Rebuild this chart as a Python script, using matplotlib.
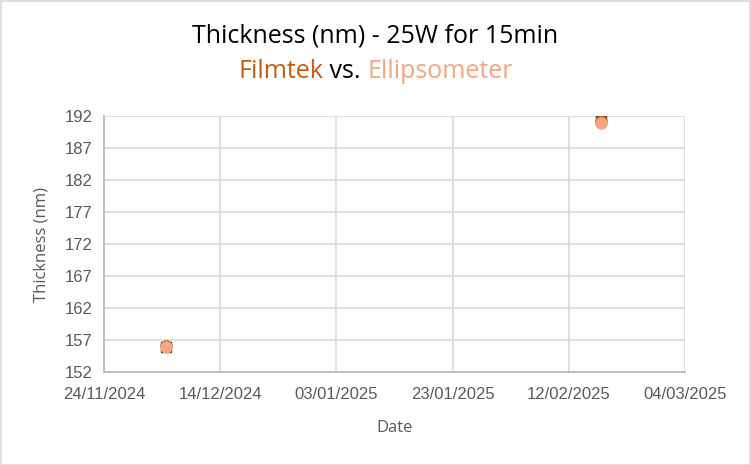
import numpy as np
import pandas as pd
import matplotlib
matplotlib.use("Agg")
import matplotlib.pyplot as plt
import matplotlib.dates as mdates

# =====================================================
# Data
# =====================================================
dates = pd.to_datetime(["2024-12-04 18:00", "2025-02-17 12:00"])
filmtek = [156.1, 191.2]
ellipsometer = [155.85, 190.9]
reference = [155.9, 191.4]

x_ticks = pd.date_range("2024-11-24", "2025-03-04", freq="20D")
y_ticks = np.arange(152, 193, 5)

c_film = "#C55A11"
c_ellip = "#F4A582"
c_ref = "#404040"
c_tick = "#595959"

# =====================================================
# Figure
# =====================================================
fig = plt.figure(figsize=(7.51, 4.65), dpi=100)
fig.patch.set_facecolor("white")
W, H = 751, 465

# outer border like the excel chart frame
fig.add_artist(plt.Rectangle((0.5 / W, 0.5 / H), 1 - 1.5 / W, 1 - 1.5 / H,
                             transform=fig.transFigure, fill=False,
                             edgecolor="#D9D9D9", linewidth=1.2))

ax = fig.add_axes([104 / W, 1 - 372 / H, (685 - 104) / W, (372 - 116) / H])

ax.scatter(dates, reference, marker="s", s=7.6 ** 2, color=c_ref, zorder=3)
ax.scatter(dates, filmtek, marker="o", s=8.0 ** 2, color=c_film, zorder=4)
ax.scatter(dates, ellipsometer, marker="o", s=8.0 ** 2, color=c_ellip, zorder=5)

ax.set_xlim(x_ticks[0], x_ticks[-1])
ax.set_ylim(152, 192)
ax.set_xticks(x_ticks)
ax.set_yticks(y_ticks)
ax.xaxis.set_major_formatter(mdates.DateFormatter("%d/%m/%Y"))

ax.grid(True, color="#D9D9D9", linewidth=1.2)
ax.set_axisbelow(True)
for s in ["top", "right"]:
    ax.spines[s].set_visible(False)
for s in ["left", "bottom"]:
    ax.spines[s].set_color("#BFBFBF")
    ax.spines[s].set_linewidth(1.4)

ax.tick_params(length=0, labelsize=12, labelcolor=c_tick, pad=8)
for lab in ax.get_xticklabels() + ax.get_yticklabels():
    lab.set_fontfamily("Liberation Sans")
ax.tick_params(axis="x", pad=11)

ax.set_xlabel("Date", fontsize=12, color=c_tick, family="Open Sans", labelpad=13)
ax.set_ylabel("Thickness (nm)", fontsize=12, color=c_tick, family="Open Sans", labelpad=11)

# =====================================================
# Title (two lines, second one coloured word by word)
# =====================================================
fig.text(0.5, 1 - 36 / H, "Thickness (nm) - 25W for 15min", ha="center", va="center",
         fontsize=18, family="Open Sans", color="black")

parts = [("Filmtek", c_film), (" vs. ", "black"), ("Ellipsometer", c_ellip)]
renderer = fig.canvas.get_renderer()
texts = []
for word, col in parts:
    t = fig.text(0, 1 - 71 / H, word, ha="left", va="center", fontsize=18,
                 family="Open Sans", color=col)
    texts.append(t)
widths = [t.get_window_extent(renderer).width for t in texts]
x0 = (W - sum(widths)) / 2
for t, w in zip(texts, widths):
    t.set_x(x0 / W)
    x0 += w

fig.savefig("out.png", dpi=100)
